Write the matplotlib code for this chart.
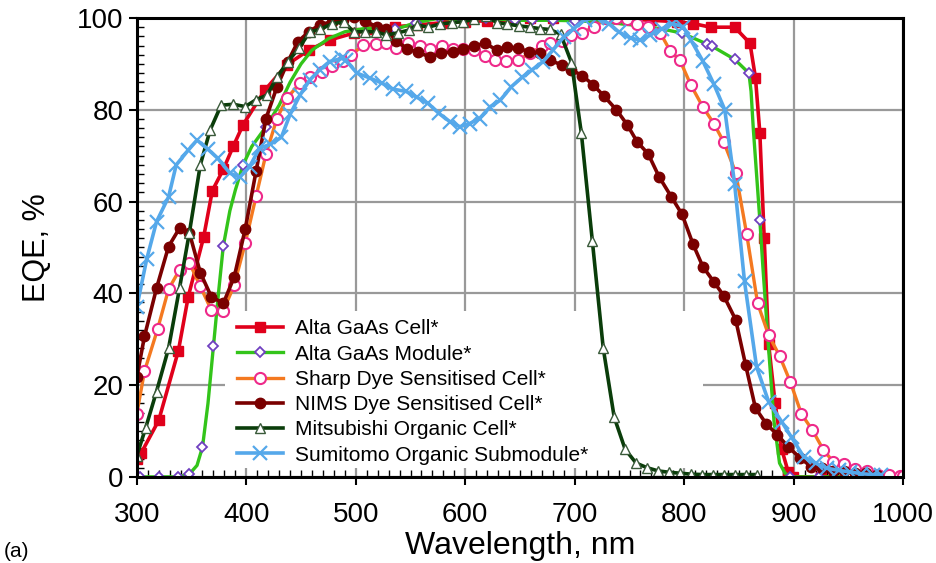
import matplotlib

matplotlib.use("Agg")
import matplotlib.pyplot as plt
from matplotlib.patches import Rectangle
from matplotlib.ticker import MultipleLocator

plt.rcParams["font.family"] = ["Liberation Sans", "DejaVu Sans"]

# Alta GaAs Cell
alta_cell_x = [300, 304, 320, 338, 347, 361, 369, 379, 388, 397, 417, 437, 457, 476, 498, 516, 536, 556,
               580, 600, 620, 640, 659, 680, 702, 723, 746, 770, 793, 808, 824, 846, 860, 865, 869, 873,
               877, 883, 889, 895, 899, 925, 950, 975, 1000]
alta_cell_y = [4, 5.2, 12.3, 27.5, 39.3, 52.2, 62.4, 67, 72, 76.7, 84.3, 89.8, 93, 95.2, 96.7, 97.7, 98.1, 98.5,
               99, 99.2, 99.4, 99.5, 100, 100, 100.2, 100, 99.8, 99.5, 99.2, 98.8, 98, 98, 94.5, 87, 75, 52,
               29, 16, 6, 1, 0, 0, 0, 0, 0]

# Alta GaAs Module
alta_mod_x = [300, 303, 320, 338, 348, 355, 360, 365, 370, 375, 379, 385, 390, 397, 405, 418, 430, 440, 450,
              460, 475, 490, 510, 536, 555, 577, 598, 619, 645, 661, 680, 700, 720, 740, 760, 780, 798,
              821, 825, 846, 859, 861, 863, 866, 869, 872, 877, 882, 887, 892, 897, 923, 950, 975, 1000]
alta_mod_y = [0, 0, 0, 0, 0.6, 2.5, 6.5, 16, 28.5, 41, 50.3, 58, 62.5, 68, 72, 76.3, 81, 86, 90,
              93, 95.5, 97, 97.8, 97.5, 99, 100, 99.5, 100, 99.5, 99.5, 99.5, 99.4, 99.2, 98.8, 98.3, 97.6, 96.7,
              94.3, 93.9, 91, 88, 84, 76, 66, 56, 45, 28, 12, 3, 0.8, 0, 0, 0, 0, 0]
alta_mod_marks = [0, 1, 2, 3, 4, 6, 8, 10, 13, 15, 23, 24, 25, 26, 27, 28, 29, 30, 31, 36, 37, 38, 39, 40, 44,
                  50, 51, 52, 53, 54]

# Sharp Dye Sensitised Cell
sharp_x = [300, 307, 319, 329, 339, 348, 358, 368, 379, 389, 399, 409, 418, 428, 437, 449, 458, 469, 478,
           488, 496, 507, 518, 528, 537, 548, 559, 568, 579, 589, 598, 608, 618, 627, 637, 648, 659, 670,
           677, 688, 697, 707, 718, 728, 738, 748, 757, 767, 778, 787, 796, 806, 817, 827, 836, 847, 857,
           867, 877, 887, 897, 907, 917, 927, 936, 946, 956, 967, 977, 987, 997, 1000]
sharp_y = [13.7, 23, 32.2, 40.9, 45.1, 46.7, 41.5, 36.4, 36.2, 41.8, 50.9, 61.2, 70.4, 78.1, 82.5, 85.8, 87.2,
           88.3, 89.5, 90.7, 92, 94.1, 94.3, 94.5, 93.4, 94.5, 93.9, 93.2, 93.8, 93.2, 93.2, 93, 91.7, 90.8,
           90.7, 90.8, 92.3, 93.8, 94.5, 95, 96.3, 96.8, 98.1, 99.9, 100, 99.7, 98.8, 98, 96.8, 92.9, 90.8,
           85.4, 80.6, 77, 73, 66.3, 52.9, 37.8, 30.9, 26.4, 20.6, 13.7, 10.2, 5.9, 3.3, 2.8, 1.8, 1.2, 0.4,
           0.4, 0.2, 0.2]

# NIMS Dye Sensitised Cell
nims_x = [300, 307, 318, 329, 339, 348, 358, 368, 379, 389, 399, 409, 418, 428, 438, 447, 457, 467, 478,
          488, 498, 508, 519, 528, 537, 547, 557, 568, 578, 589, 598, 608, 618, 629, 638, 648, 658, 668,
          677, 688, 697, 707, 717, 727, 738, 748, 757, 767, 777, 788, 798, 808, 817, 827, 836, 847, 856,
          865, 875, 885, 895, 906, 916, 926, 936, 946, 956, 966, 976]
nims_y = [21.7, 30.6, 41.1, 50.2, 54.2, 53.2, 44.5, 39.3, 37.8, 43.6, 54, 66.7, 78.1, 85, 90.5, 94.8, 97,
          98.5, 99.2, 99.6, 100.3, 99.4, 98.1, 97.5, 95, 93.3, 92.5, 91.5, 92.3, 92.7, 93.3, 93.9, 94.5,
          93, 93.7, 93.4, 92.7, 92.3, 90.8, 89.8, 88.7, 87.4, 85.4, 82.9, 80, 76.7, 73, 70.4, 65.4, 61.1,
          57.2, 50.7, 45.8, 42.5, 39.5, 34.2, 24.4, 15, 11.5, 9.2, 6.5, 4.1, 2.2, 1.9, 1.2, 1.2, 0.9, 0.8,
          0.5]

# Mitsubishi Organic Cell
mits_x = [300, 308, 318, 329, 339, 348, 358, 367, 377, 388, 399, 409, 419, 428, 438, 448, 458, 467, 478,
          489, 498, 508, 518, 528, 539, 549, 556, 566, 577, 588, 598, 608, 619, 629, 638, 649, 659, 668,
          677, 687, 697, 706, 716, 726, 736, 746, 756, 766, 776, 786, 796, 806, 816, 826, 836, 846, 856,
          866]
mits_y = [4.6, 10.6, 18.6, 28, 41.1, 53.2, 68, 75.6, 81, 81.2, 80.7, 82.2, 83.2, 87.1, 90.5, 93.4, 97,
          97.5, 98.7, 99.2, 97, 97, 97, 96.3, 96.8, 97.4, 98.5, 98, 98.7, 99, 99.2, 99.7, 100.4, 99, 98.7,
          98.3, 98, 97.7, 97.5, 96.5, 90.3, 74.9, 51.5, 28, 13, 6, 3, 2, 1.3, 1, 0.8, 0.6, 0.5, 0.5, 0.5,
          0.5, 0.5, 0.5]

# Sumitomo Organic Submodule
sumi_x = [300, 309, 318, 329, 336, 347, 355, 365, 374, 385, 394, 403, 412, 422, 432, 440, 449, 458, 467,
          476, 487, 491, 501, 513, 524, 534, 546, 556, 566, 576, 586, 595, 604, 613, 623, 632, 642, 652,
          661, 671, 680, 690, 699, 709, 720, 731, 740, 751, 760, 769, 780, 789, 799, 806, 817, 827, 837,
          846, 855, 866, 877, 889, 898, 909, 920, 930, 941, 951, 961, 972, 980]
sumi_y = [37, 47.4, 55.6, 61, 68, 71.2, 73.4, 71.4, 69.4, 66.2, 65.3, 67.6, 71.6, 72.5, 74, 79, 83.2, 86.5,
          88.7, 90.5, 91.2, 90.8, 88, 86.9, 85.8, 84.5, 84, 82.7, 81.4, 79.2, 77.4, 76.3, 77, 78.1, 80.7,
          82.1, 85, 87.1, 88.7, 90.5, 93, 95.9, 97.7, 99.6, 100.1, 98.8, 97, 95.6, 95.2, 96.3, 97.7, 98.8,
          98.1, 95.2, 90.6, 85.6, 80, 63.8, 42.6, 24, 16.4, 12, 8.6, 4.4, 3, 1.9, 1.4, 1.1, 0.7, 0.5, 0.5]

fig = plt.figure(figsize=(9.37, 5.63), dpi=100)
ax = fig.add_axes([0.146, 0.153, 0.818, 0.815])

ax.set_axisbelow(True)
ax.grid(True, which="major", color="#999999", linewidth=1.6)
ax.add_patch(Rectangle((0.115, 0.02), 0.624, 0.342, transform=ax.transAxes,
                       facecolor="white", edgecolor="none", zorder=1))

ax.plot(alta_cell_x, alta_cell_y, color="#e0001b", linewidth=2.6, marker="s", markersize=7,
        markerfacecolor="#e0001b", markeredgecolor="#e0001b", label="Alta GaAs Cell*", zorder=3)
ax.plot(alta_mod_x, alta_mod_y, color="#33c41a", linewidth=2.4, marker="D", markersize=5.5,
        markerfacecolor="white", markeredgecolor="#7040c0", markeredgewidth=1.3,
        markevery=alta_mod_marks, label="Alta GaAs Module*", zorder=3)
ax.plot(sharp_x, sharp_y, color="#f47920", linewidth=2.4, marker="o", markersize=8,
        markerfacecolor="white", markeredgecolor="#ee2a8a", markeredgewidth=1.5,
        label="Sharp Dye Sensitised Cell*", zorder=3)
ax.plot(nims_x, nims_y, color="#7a0000", linewidth=2.6, marker="o", markersize=7.5,
        markerfacecolor="#7a0000", markeredgecolor="#7a0000", label="NIMS Dye Sensitised Cell*", zorder=3)
ax.plot(mits_x, mits_y, color="#0a3d0a", linewidth=2.6, marker="^", markersize=7,
        markerfacecolor="white", markeredgecolor="#3a5a3a", markeredgewidth=1.0,
        label="Mitsubishi Organic Cell*", zorder=3)
ax.plot(sumi_x, sumi_y, color="#55a8ea", linewidth=2.6, marker="x", markersize=10, markeredgewidth=1.6,
        label="Sumitomo Organic Submodule*", zorder=3)

ax.set_xlim(300, 1000)
ax.set_ylim(0, 100)
ax.xaxis.set_major_locator(MultipleLocator(100))
ax.xaxis.set_minor_locator(MultipleLocator(10))
ax.yaxis.set_major_locator(MultipleLocator(20))
ax.yaxis.set_minor_locator(MultipleLocator(2))
ax.tick_params(which="major", direction="out", length=6, width=1.5, labelsize=20, colors="black")
ax.tick_params(which="minor", direction="in", length=5, width=1.0)
ax.tick_params(axis="x", pad=12)

for side in ["left", "bottom", "top", "right"]:
    ax.spines[side].set_linewidth(2.2)
    ax.spines[side].set_color("black")
    ax.spines[side].set_zorder(4)

ax.set_xlabel("Wavelength, nm", fontsize=23, labelpad=2)
ax.set_ylabel("EQE, %", fontsize=22, labelpad=18)

ax.legend(loc="upper left", bbox_to_anchor=(0.112, 0.375), frameon=False, fontsize=15,
          handlelength=2.2, labelspacing=0.3, borderpad=0.2, handletextpad=0.55)

fig.text(0.004, 0.004, "(a)", fontsize=15, va="bottom")

fig.savefig("out.png", dpi=100)
plt.close(fig)
